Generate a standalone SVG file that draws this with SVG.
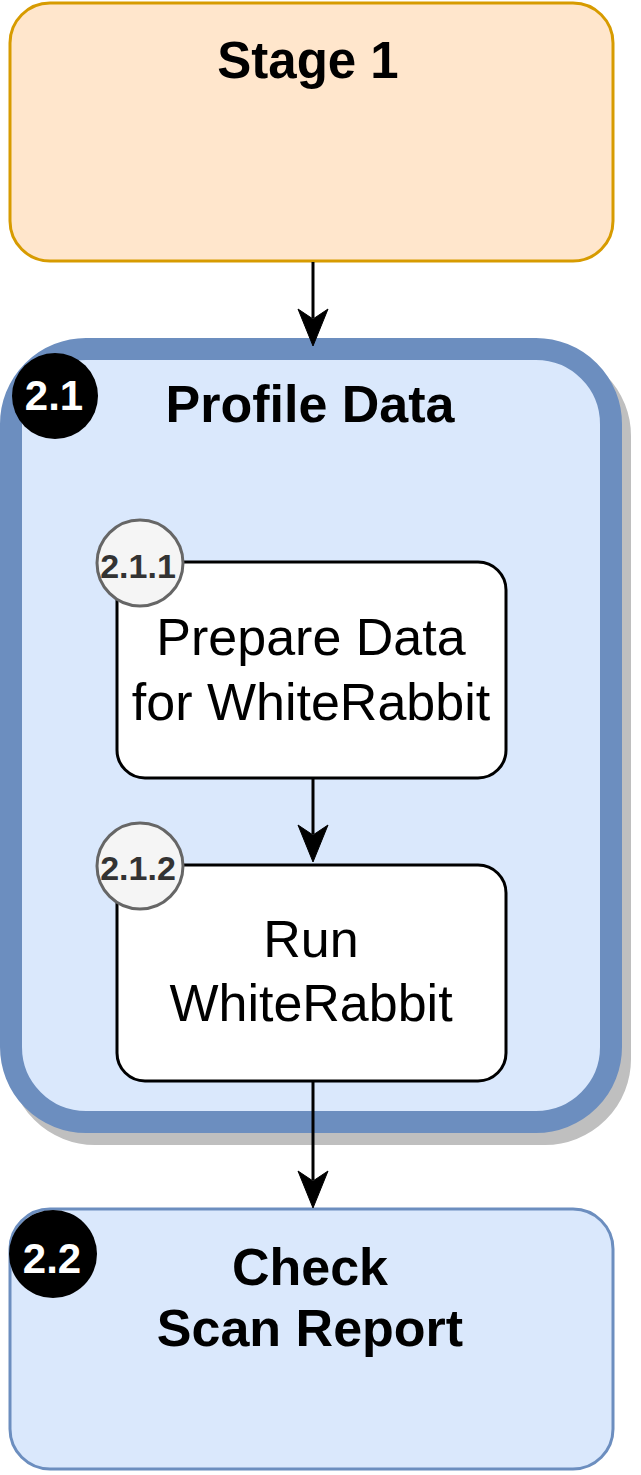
<svg xmlns="http://www.w3.org/2000/svg" width="641" height="1475" viewBox="0 0 641 1475">
<style>
.bold{font-family:"Liberation Sans",Arial,sans-serif;font-weight:bold;fill:#000;text-anchor:middle}
.reg{font-family:"Liberation Sans",Arial,sans-serif;fill:#000;text-anchor:middle}
.badge{fill:#000}
.badgetxt{font-family:"Liberation Sans",Arial,sans-serif;font-weight:bold;fill:#fff;text-anchor:middle;font-size:42px}
.sub{fill:#f5f5f5;stroke:#666;stroke-width:3}
.subtxt{font-family:"Liberation Sans",Arial,sans-serif;font-weight:bold;fill:#333;text-anchor:middle;font-size:34px}
.task{fill:#fff;stroke:#000;stroke-width:3}
.edge{stroke:#000;stroke-width:3;fill:none}
.head{fill:#000;stroke:#000;stroke-width:1}
</style>
<g id="stage1">
<rect x="10" y="3" width="603" height="258" rx="40" fill="#ffe6cc" stroke="#d79b00" stroke-width="3"/>
<text class="bold" x="308" y="78" font-size="51">Stage 1</text>
</g>
<g id="profile-data">
<rect x="20" y="361" width="600" height="773" rx="75" fill="#bfbfbf" stroke="#bfbfbf" stroke-width="22"/>
<rect x="11" y="349" width="600" height="773" rx="75" fill="#dae8fc" stroke="#6c8ebf" stroke-width="22"/>
<text class="bold" x="310" y="422" font-size="52">Profile Data</text>
</g>
<g id="badge-2-1">
<circle class="badge" cx="55" cy="396" r="43"/>
<text class="badgetxt" x="54" y="410">2.1</text>
</g>
<g id="prepare">
<rect class="task" x="117" y="562" width="389" height="216" rx="28"/>
<text class="reg" x="311" y="655" font-size="52">Prepare Data</text>
<text class="reg" x="311" y="720" font-size="52">for WhiteRabbit</text>
</g>
<g id="badge-2-1-1">
<circle class="sub" cx="140" cy="563" r="43"/>
<text class="subtxt" x="138" y="578">2.1.1</text>
</g>
<g id="run">
<rect class="task" x="117" y="865" width="389" height="216" rx="28"/>
<text class="reg" x="311" y="957" font-size="52">Run</text>
<text class="reg" x="311" y="1021" font-size="52">WhiteRabbit</text>
</g>
<g id="badge-2-1-2">
<circle class="sub" cx="140" cy="866" r="43"/>
<text class="subtxt" x="138" y="880">2.1.2</text>
</g>
<g id="check">
<rect x="10" y="1209" width="603" height="260" rx="40" fill="#dae8fc" stroke="#6c8ebf" stroke-width="3"/>
<text class="bold" x="310" y="1285" font-size="52">Check</text>
<text class="bold" x="310" y="1346" font-size="52">Scan Report</text>
</g>
<g id="badge-2-2">
<circle class="badge" cx="53" cy="1254" r="44"/>
<text class="badgetxt" x="52" y="1273">2.2</text>
</g>
<g id="connectors">
<line class="edge" x1="313" y1="262" x2="313" y2="318"/>
<path class="head" d="M313,346 L298,309 L313,319 L328,309 Z"/>
<line class="edge" x1="313" y1="779" x2="313" y2="834"/>
<path class="head" d="M313,862 L298,825 L313,835 L328,825 Z"/>
<line class="edge" x1="313" y1="1082" x2="313" y2="1180"/>
<path class="head" d="M313,1208 L298,1171 L313,1181 L328,1171 Z"/>
</g>
</svg>
